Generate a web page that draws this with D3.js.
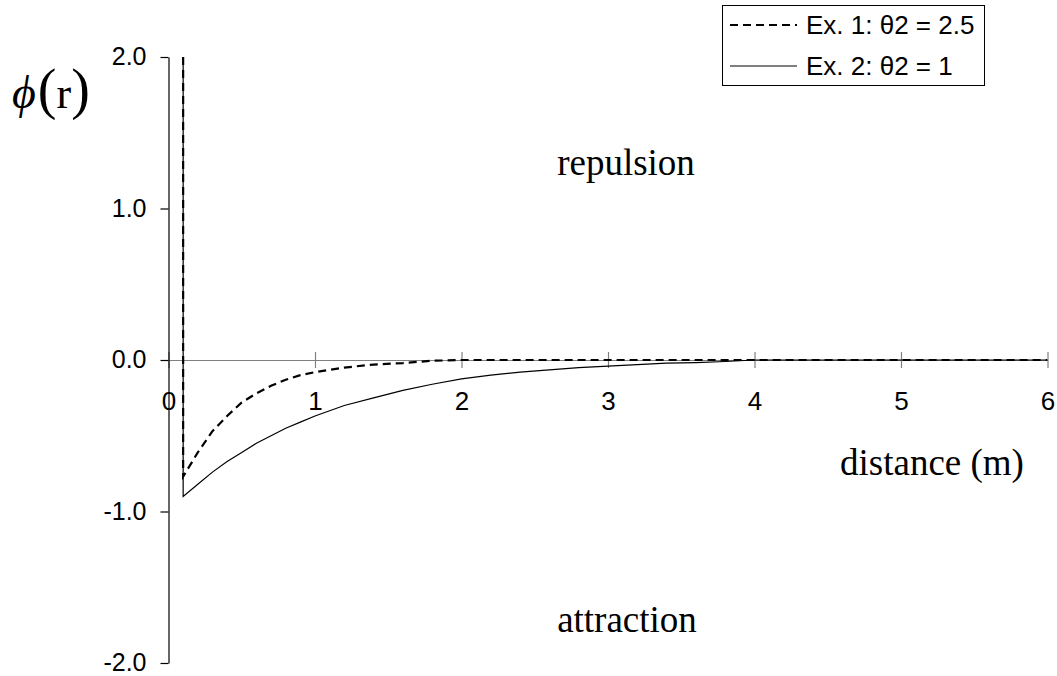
<!DOCTYPE html>
<html>
<head>
<meta charset="utf-8">
<script src="https://cdn.jsdelivr.net/npm/d3@7"></script>
<style>
  html, body { margin: 0; padding: 0; background: #fff; }
  svg { display: block; }
</style>
</head>
<body>
<svg id="chart" width="1057" height="676"></svg>
<script>
// Distance (m) sample points shared by both series
const distance = [0.1, 0.1, 0.2, 0.3, 0.4, 0.5, 0.6, 0.7, 0.8, 0.9, 1.0,
                  1.2, 1.4, 1.6, 1.8, 2.0, 2.2, 2.4, 2.6, 2.8, 3.0,
                  3.2, 3.4, 3.6, 3.8, 4.0, 5.0, 6.0];
// Ex. 1: θ2 = 2.5
const phiEx1 = [2.0, -0.77, -0.61, -0.47, -0.37, -0.28, -0.22, -0.17, -0.13, -0.10, -0.08,
                -0.05, -0.03, -0.02, -0.005, 0.0, 0.0, 0.0, 0.0, 0.0, 0.0,
                0.0, 0.0, 0.0, 0.0, 0.0, 0.0, 0.0];
// Ex. 2: θ2 = 1
const phiEx2 = [2.0, -0.90, -0.82, -0.74, -0.67, -0.61, -0.55, -0.50, -0.45, -0.41, -0.37,
                -0.30, -0.25, -0.20, -0.16, -0.125, -0.10, -0.08, -0.065, -0.05, -0.04,
                -0.03, -0.02, -0.017, -0.01, 0.0, 0.0, 0.0];

const xTicks = [0, 1, 2, 3, 4, 5, 6];
const yTicks = [-2, -1, 0, 1, 2];
const seriesNames = ["Ex. 1: θ2 = 2.5", "Ex. 2: θ2 = 1"];

const svg = d3.select("#chart");
const sans = "'Liberation Sans', Arial, sans-serif";
const serif = "'Liberation Serif', 'Times New Roman', serif";

const x = d3.scaleLinear().domain([0, 6]).range([168.5, 1047.5]);
const y = d3.scaleLinear().domain([-2, 2]).range([663, 57]);

svg.append("defs").append("clipPath").attr("id", "plot")
  .append("rect")
  .attr("x", x(0)).attr("y", y(2))
  .attr("width", x(6) - x(0)).attr("height", y(-2) - y(2));

// x axis along φ = 0, ticks crossing the line
const gx = svg.append("g")
  .attr("transform", `translate(0,${y(0)})`)
  .call(d3.axisBottom(x).tickValues(xTicks).tickSize(8).tickSizeOuter(0).tickFormat(d3.format("d")));
gx.select(".domain").attr("stroke", "#808080").attr("stroke-width", 1.2);
gx.selectAll(".tick line").attr("y1", -8).attr("y2", 8).attr("stroke", "#808080").attr("stroke-width", 1.2);
gx.selectAll(".tick text")
  .attr("y", 50).attr("dy", null)
  .attr("font-family", sans).attr("font-size", 26).attr("fill", "#000");

// y axis on the left
const gy = svg.append("g")
  .attr("transform", `translate(${x(0)},0)`)
  .call(d3.axisLeft(y).tickValues(yTicks).tickSize(8).tickSizeOuter(0).tickFormat(d => d.toFixed(1)));
gy.select(".domain").attr("stroke", "#000").attr("stroke-width", 1.2);
gy.selectAll(".tick line").attr("stroke", "#000").attr("stroke-width", 1.2);
gy.selectAll(".tick text")
  .attr("x", -22).attr("dy", "0.3em")
  .attr("font-family", sans).attr("font-size", 25).attr("fill", "#000");

// series
const line = d3.line().x(d => x(d[0])).y(d => y(d[1]));
const plot = svg.append("g").attr("clip-path", "url(#plot)");

plot.append("path")
  .datum(distance.map((r, i) => [r, phiEx2[i]]))
  .attr("d", line)
  .attr("fill", "none").attr("stroke", "#000").attr("stroke-width", 1.2);

plot.append("path")
  .datum(distance.map((r, i) => [r, phiEx1[i]]))
  .attr("d", line)
  .attr("fill", "none").attr("stroke", "#000").attr("stroke-width", 2.2)
  .attr("stroke-dasharray", "8,5");

// legend
const legend = svg.append("g");
legend.append("rect")
  .attr("x", 722.5).attr("y", 5.5).attr("width", 262).attr("height", 80)
  .attr("fill", "#fff").attr("stroke", "#000").attr("stroke-width", 1);
const rows = [
  { name: seriesNames[0], dash: "8,5", w: 2, cy: 25 },
  { name: seriesNames[1], dash: null, w: 1, cy: 66 }
];
rows.forEach(r => {
  legend.append("line")
    .attr("x1", 730).attr("x2", 797).attr("y1", r.cy).attr("y2", r.cy)
    .attr("stroke", "#000").attr("stroke-width", r.w)
    .attr("stroke-dasharray", r.dash);
  legend.append("text")
    .attr("x", 806).attr("y", r.cy + 9)
    .attr("font-family", sans).attr("font-size", 26)
    .text(r.name);
});

// y axis title φ(r)
const yt = svg.append("text")
  .attr("x", 12).attr("y", 108)
  .attr("font-family", serif).attr("fill", "#000");
yt.append("tspan").attr("font-style", "italic").attr("font-size", 46).text("ϕ");
yt.append("tspan").attr("font-size", 56).attr("dx", 2).text("(");
yt.append("tspan").attr("font-size", 44).text("r");
yt.append("tspan").attr("font-size", 56).text(")");

// annotations
svg.append("text").attr("x", 626).attr("y", 175).attr("text-anchor", "middle")
  .attr("font-family", serif).attr("font-size", 37).text("repulsion");
svg.append("text").attr("x", 627).attr("y", 632).attr("text-anchor", "middle")
  .attr("font-family", serif).attr("font-size", 37).text("attraction");
svg.append("text").attr("x", 932).attr("y", 475).attr("text-anchor", "middle")
  .attr("font-family", serif).attr("font-size", 37).text("distance (m)");
</script>
</body>
</html>
